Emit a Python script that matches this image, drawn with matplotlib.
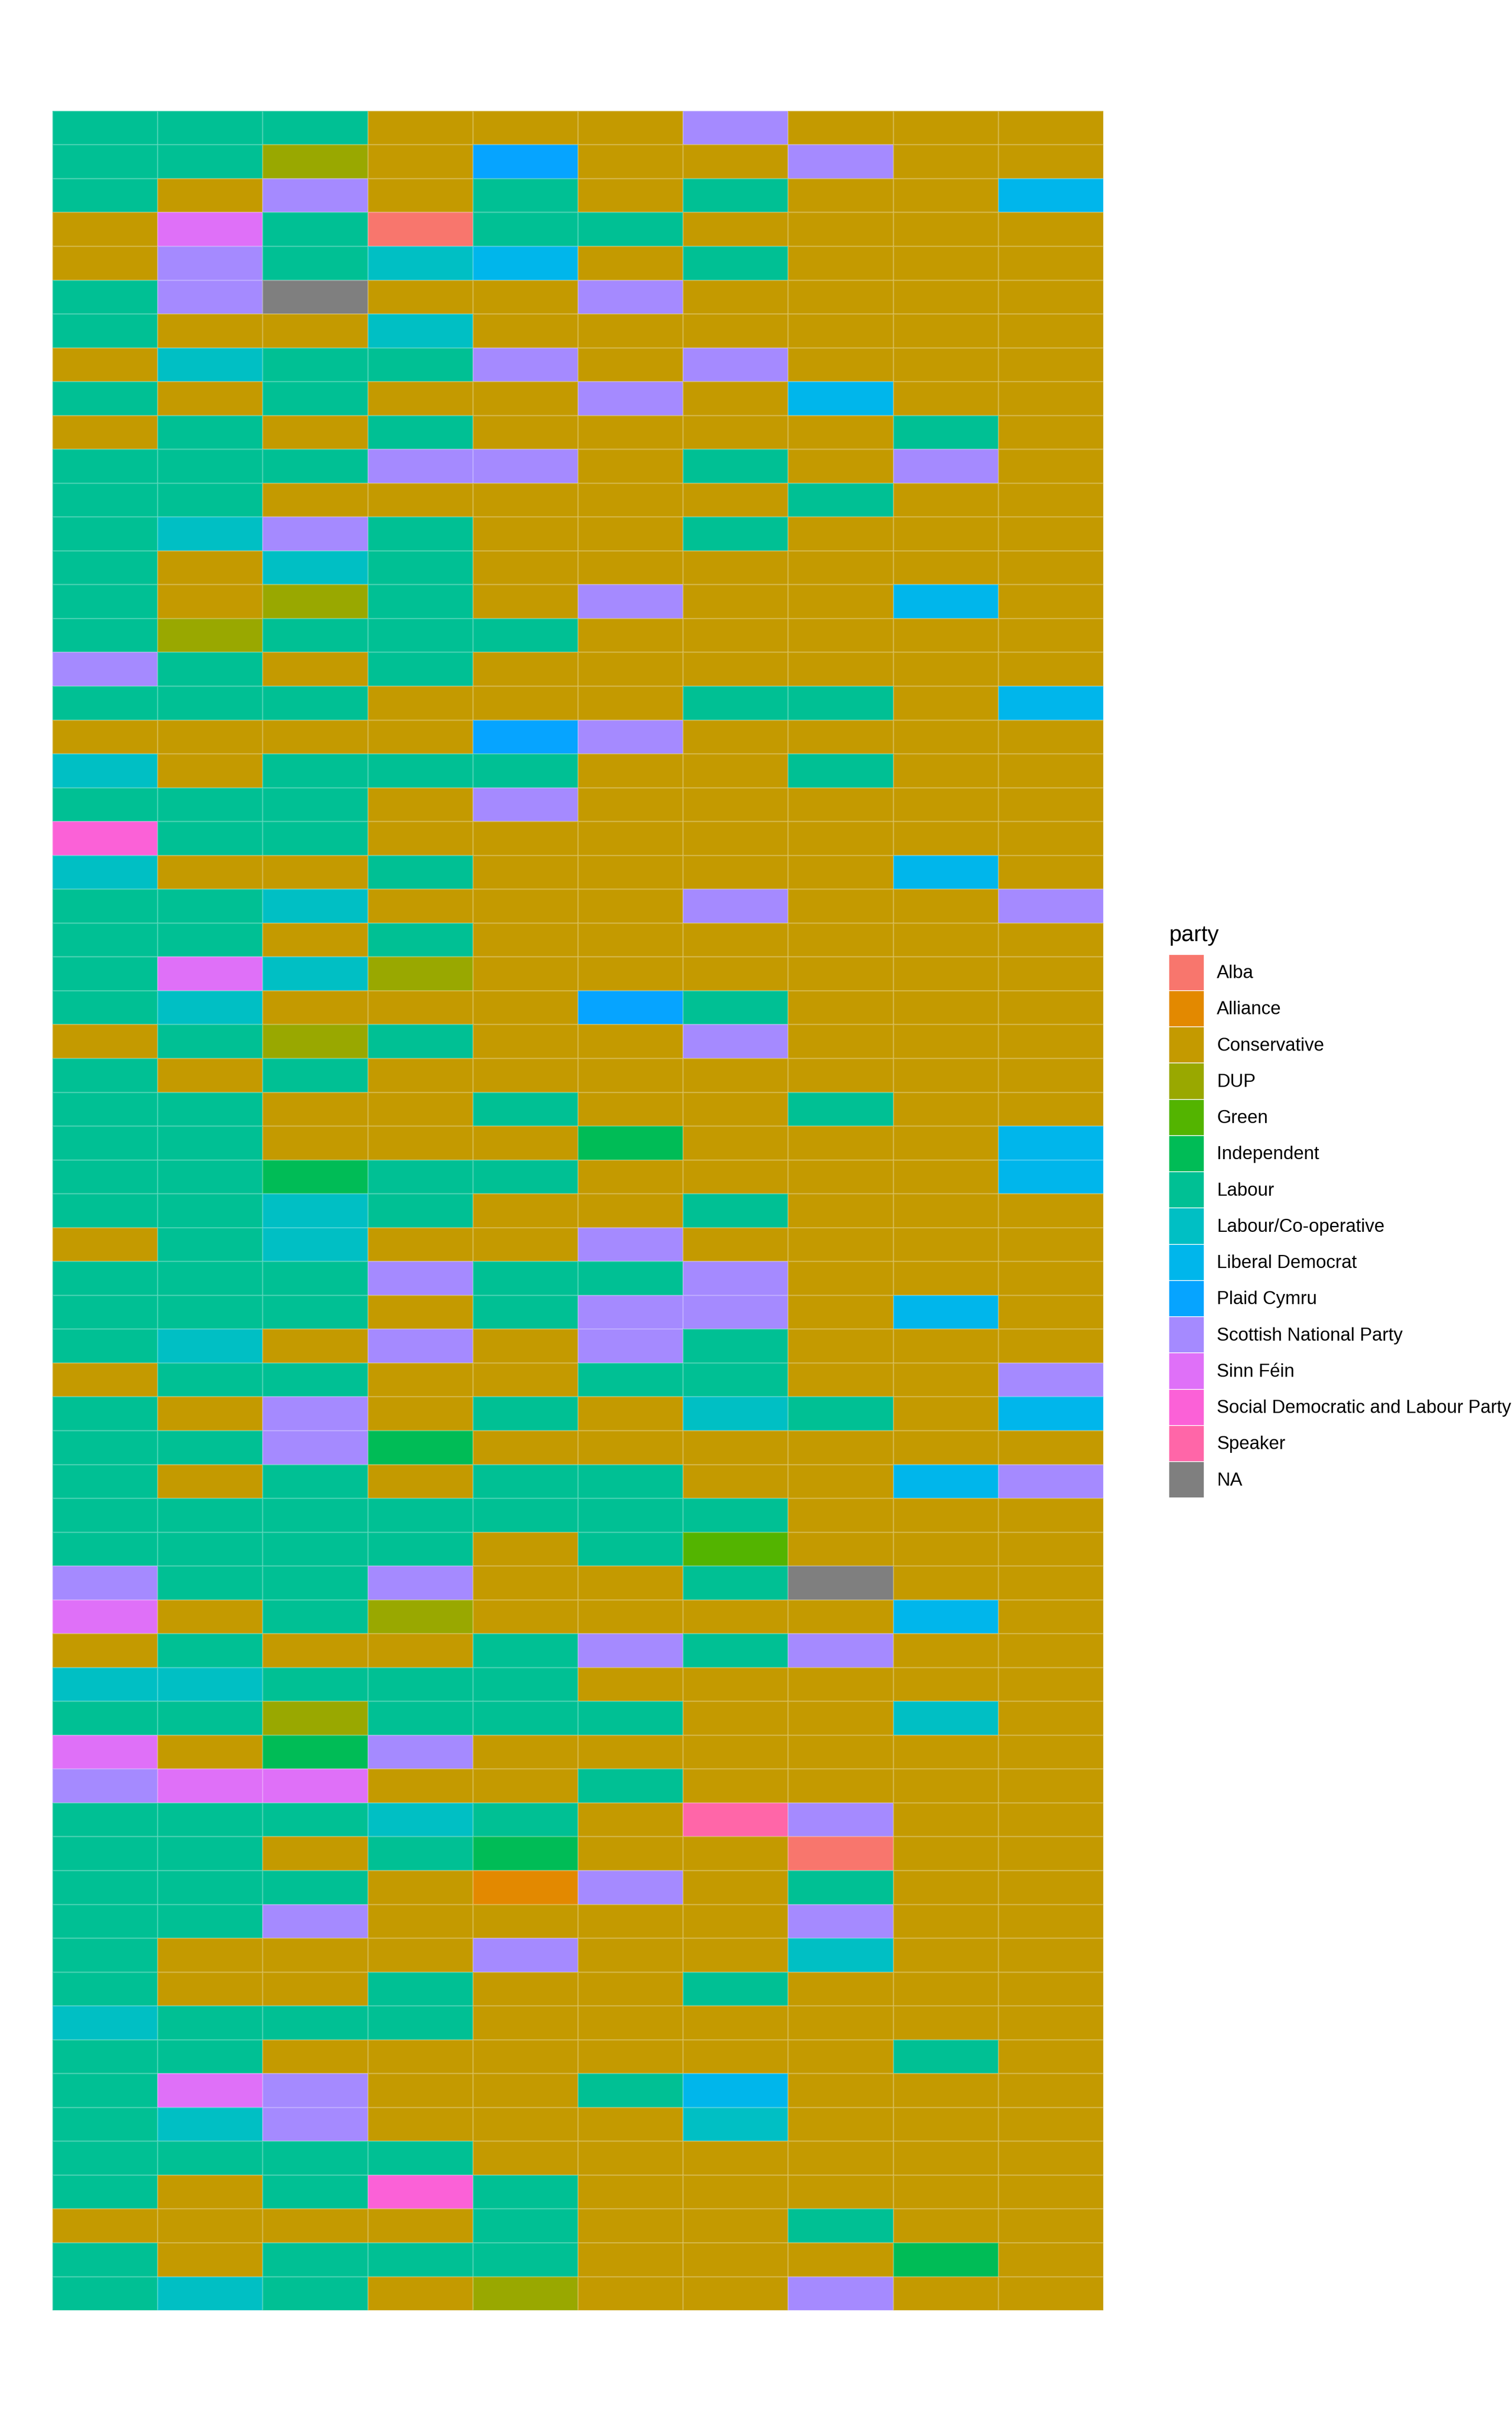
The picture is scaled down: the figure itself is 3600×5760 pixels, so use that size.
import numpy as np
import matplotlib
matplotlib.use("Agg")
import matplotlib.pyplot as plt
from matplotlib.colors import ListedColormap
from matplotlib.patches import Patch

plt.rcParams['font.family'] = ['Liberation Sans', 'DejaVu Sans']

# legend order (ggplot factor levels), NA last
parties = ['Alba', 'Alliance', 'Conservative', 'DUP', 'Green', 'Independent',
           'Labour', 'Labour/Co-operative', 'Liberal Democrat', 'Plaid Cymru',
           'Scottish National Party', 'Sinn Féin',
           'Social Democratic and Labour Party', 'Speaker', 'NA']
party_colours = ['#F8766D', '#E38900', '#C49A00', '#99A800', '#53B400', '#00BC56',
                 '#00C094', '#00BFC4', '#00B6EB', '#06A4FF', '#A58AFF', '#DF70F8',
                 '#FB61D7', '#FF66A8', '#7F7F7F']
# one letter per party, used in the seat grid below
party_codes = ['A', 'Y', 'C', 'D', 'G', 'I', 'L', 'Q', 'B', 'P', 'S', 'F', 'X', 'K', 'N']

# 65 rows x 10 seats, top row first
seat_rows = [
    'LLLCCCSCCC', 'LLDCPCCSCC', 'LCSCLCLCCB', 'CFLALLCCCC', 'CSLQBCLCCC',
    'LSNCCSCCCC', 'LCCQCCCCCC', 'CQLLSCSCCC', 'LCLCCSCBCC', 'CLCLCCCCLC',
    'LLLSSCLCSC', 'LLCCCCCLCC', 'LQSLCCLCCC', 'LCQLCCCCCC', 'LCDLCSCCBC',
    'LDLLLCCCCC', 'SLCLCCCCCC', 'LLLCCCLLCB', 'CCCCPSCCCC', 'QCLLLCCLCC',
    'LLLCSCCCCC', 'XLLCCCCCCC', 'QCCLCCCCBC', 'LLQCCCSCCS', 'LLCLCCCCCC',
    'LFQDCCCCCC', 'LQCCCPLCCC', 'CLDLCCSCCC', 'LCLCCCCCCC', 'LLCCLCCLCC',
    'LLCCCICCCB', 'LLILLCCCCB', 'LLQLCCLCCC', 'CLQCCSCCCC', 'LLLSLLSCCC',
    'LLLCLSSCBC', 'LQCSCSLCCC', 'CLLCCLLCCS', 'LCSCLCQLCB', 'LLSICCCCCC',
    'LCLCLLCCBS', 'LLLLLLLCCC', 'LLLLCLGCCC', 'SLLSCCLNCC', 'FCLDCCCCBC',
    'CLCCLSLSCC', 'QQLLLCCCCC', 'LLDLLLCCQC', 'FCISCCCCCC', 'SFFCCLCCCC',
    'LLLQLCKSCC', 'LLCLICCACC', 'LLLCYSCLCC', 'LLSCCCCSCC', 'LCCCSCCQCC',
    'LCCLCCLCCC', 'QLLLCCCCCC', 'LLCCCCCCLC', 'LFSCCLBCCC', 'LQSCCCQCCC',
    'LLLLCCCCCC', 'LCLXLCCCCC', 'CCCCLCCLCC', 'LCLLLCCCIC', 'LQLCDCCSCC',
]

# turn the letters into party indices
grid = np.array([[party_codes.index(ch) for ch in row] for row in seat_rows])
n_rows, n_cols = grid.shape

fig = plt.figure(figsize=(12, 19.2), dpi=300)
ax = fig.add_axes([0.0347, 0.0453, 0.695, 0.9089])

cmap = ListedColormap(party_colours)
ax.pcolormesh(np.arange(n_cols + 1), np.arange(n_rows + 1), grid,
              cmap=cmap, vmin=-0.5, vmax=len(parties) - 0.5,
              edgecolors=(1, 1, 1, 0.22), linewidth=0.3)
ax.set_xlim(0, n_cols)
ax.set_ylim(n_rows, 0)
ax.axis('off')

# legend: keys stacked with no gap, title drawn separately
handles = [Patch(facecolor=c, edgecolor='white', linewidth=0.4) for c in party_colours]
leg = fig.legend(handles, parties, loc='upper left',
                 bbox_to_anchor=(0.7731, 0.6056), frameon=False,
                 fontsize=10.5, handlelength=1.92,
                 handleheight=2.656, labelspacing=0, handletextpad=0.69,
                 borderpad=0, borderaxespad=0)
fig.text(0.7731, 0.6111, 'party', fontsize=12.8, ha='left', va='baseline')

fig.savefig('out.png', dpi=300)
